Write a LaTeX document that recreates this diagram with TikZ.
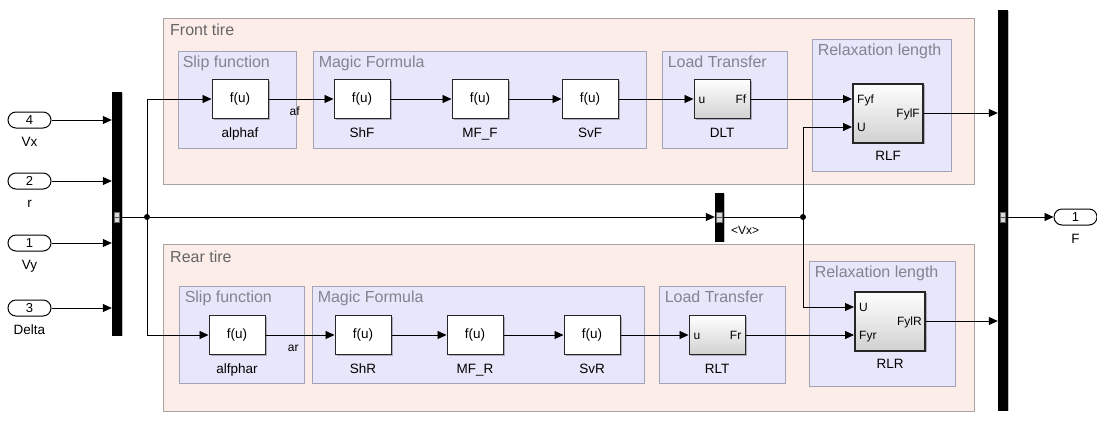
\documentclass[tikz,border=0pt]{standalone}
\usepackage{fontspec}
\setmainfont{Liberation Sans}
\usetikzlibrary{arrows.meta,shadows,fit,calc}
\definecolor{tirefill}{HTML}{FCEDE8}
\definecolor{tireline}{HTML}{ABA3A3}
\definecolor{subfill}{HTML}{E8E6FA}
\definecolor{subline}{HTML}{A3A3B8}
\definecolor{titlecol}{HTML}{666666}
\definecolor{subtitle}{HTML}{83838F}
\tikzset{
  area/.style={draw=tireline, fill=tirefill, line width=0.9pt, inner sep=0pt},
  subsys/.style={draw=subline, fill=subfill, line width=0.9pt, inner sep=0pt},
  ttl/.style={anchor=base west, inner sep=0pt, text=titlecol, font=\fontsize{16}{18}\selectfont},
  subttl/.style={anchor=base west, inner sep=0pt, text=subtitle, font=\fontsize{16}{18}\selectfont},
  blk/.style={draw=black!85, fill=white, line width=1pt, minimum width=56pt, minimum height=39pt,
    inner sep=0pt, font=\fontsize{13.5}{15}\selectfont,
    drop shadow={shadow xshift=1.5pt, shadow yshift=-1.5pt, opacity=0.25, fill=black}},
  gblk/.style={blk, top color=white, bottom color=black!18},
  rblk/.style={gblk, line width=2pt, minimum width=70pt, minimum height=59pt},
  lbl/.style={anchor=base, inner sep=0pt, font=\fontsize{13.5}{15}\selectfont},
  plbl/.style={inner sep=0pt, font=\fontsize{12}{14}\selectfont},
  bus/.style={fill=black, draw=black, inner sep=0pt, minimum width=9pt,
    drop shadow={shadow xshift=2pt, shadow yshift=-1pt, opacity=0.25, fill=black}},
  port/.style={draw=black, fill=white, rounded corners=8pt, line width=1pt, minimum width=43pt,
    minimum height=16pt, inner sep=0pt, font=\fontsize{13}{15}\selectfont},
  busmark/.style={draw=black!60, fill=white!85!black, minimum width=5.5pt, minimum height=10pt, inner sep=0pt,
    path picture={\draw[black!70, line width=0.6pt] (path picture bounding box.west) -- (path picture bounding box.east);}},
  wire/.style={draw=black, line width=0.8pt},
  arr/.style={wire, -{Triangle[length=9pt,width=8pt]}},
  dot/.style={circle, fill=black, inner sep=0pt, minimum size=6pt}
}
\begin{document}
\begin{tikzpicture}[x=1pt,y=-1pt]
\useasboundingbox (0,0) rectangle (1097,421);
% ---------- containers ----------
\node[area, fit={(163,18)(974,184)}] (front) {};
\node[area, fit={(163,244)(974,411)}] (rear) {};
\node[ttl] (front-t) at (170,35) {Front tire};
\node[ttl] (rear-t) at (170,262) {Rear tire};

\node[subsys, fit={(178,51)(296,148)}] (fslip) {};
\node[subsys, fit={(313,51)(646,148)}] (fmf) {};
\node[subsys, fit={(662,51)(787,148)}] (flt) {};
\node[subsys, fit={(812,39)(951,171)}] (frl) {};
\node[subsys, fit={(179,286)(304,383)}] (rslip) {};
\node[subsys, fit={(312,286)(644,383)}] (rmf) {};
\node[subsys, fit={(659,286)(785,383)}] (rlt) {};
\node[subsys, fit={(809,261)(955,386)}] (rrl) {};

\node[subttl] (fslip-t) at ($(fslip.north west)+(5,17)$) {Slip function};
\node[subttl] (fmf-t) at ($(fmf.north west)+(6,17)$) {Magic Formula};
\node[subttl] (flt-t) at ($(flt.north west)+(6,17)$) {Load Transfer};
\node[subttl] (frl-t) at ($(frl.north west)+(6,17)$) {Relaxation length};
\node[subttl] (rslip-t) at ($(rslip.north west)+(6,17)$) {Slip function};
\node[subttl] (rmf-t) at ($(rmf.north west)+(6,17)$) {Magic Formula};
\node[subttl] (rlt-t) at ($(rlt.north west)+(6,17)$) {Load Transfer};
\node[subttl] (rrl-t) at ($(rrl.north west)+(6,17)$) {Relaxation length};

% ---------- front blocks ----------
\node[blk] (alphaf) at (240,99) {f(u)};
\node[blk] (ShF) at (362,99) {f(u)};
\node[blk] (MFF) at (480,99) {f(u)};
\node[blk] (SvF) at (590,99) {f(u)};
\node[gblk] (DLT) at (722,99) {};
\node[rblk] (RLF) at (888,113) {};
% ---------- rear blocks ----------
\node[blk] (alfphar) at (237,335) {f(u)};
\node[blk] (ShR) at (363,335) {f(u)};
\node[blk] (MFR) at (475,335) {f(u)};
\node[blk] (SvR) at (592,335) {f(u)};
\node[gblk] (RLT) at (717,335) {};
\node[rblk] (RLR) at (890,321) {};

% block names
\node[lbl] (alphaf-l) at ($(alphaf.south)+(0,18)$) {alphaf};
\node[lbl] (ShF-l) at ($(ShF.south)+(0,18)$) {ShF};
\node[lbl] (MFF-l) at ($(MFF.south)+(0,18)$) {MF\_F};
\node[lbl] (SvF-l) at ($(SvF.south)+(0,18)$) {SvF};
\node[lbl] (DLT-l) at ($(DLT.south)+(0,18)$) {DLT};
\node[lbl] (RLF-l) at ($(RLF.south)+(0,17)$) {RLF};
\node[lbl] (alfphar-l) at ($(alfphar.south)+(0,18)$) {alfphar};
\node[lbl] (ShR-l) at ($(ShR.south)+(0,18)$) {ShR};
\node[lbl] (MFR-l) at ($(MFR.south)+(0,18)$) {MF\_R};
\node[lbl] (SvR-l) at ($(SvR.south)+(0,18)$) {SvR};
\node[lbl] (RLT-l) at ($(RLT.south)+(0,18)$) {RLT};
\node[lbl] (RLR-l) at ($(RLR.south)+(0,17)$) {RLR};

% port labels inside blocks
\node[plbl, anchor=base west] (DLT-u) at ($(DLT.west)+(5,4)$) {u};
\node[plbl, anchor=base east] (DLT-Ff) at ($(DLT.east)+(-4,4)$) {Ff};
\node[plbl, anchor=base west] (RLT-u) at ($(RLT.west)+(5,4)$) {u};
\node[plbl, anchor=base east] (RLT-Fr) at ($(RLT.east)+(-4,4)$) {Fr};
\coordinate (RLF-fy) at ($(RLF.west)+(0,-14)$);
\coordinate (RLF-u) at ($(RLF.west)+(0,14)$);
\coordinate (RLR-u) at ($(RLR.west)+(0,-14)$);
\coordinate (RLR-fy) at ($(RLR.west)+(0,14)$);
\node[plbl, anchor=base west] (RLF-fyl) at ($(RLF-fy)+(5,4)$) {Fyf};
\node[plbl, anchor=base west] (RLF-ul) at ($(RLF-u)+(5,4)$) {U};
\node[plbl, anchor=base east] (RLF-ol) at ($(RLF.east)+(-4,4)$) {FylF};
\node[plbl, anchor=base west] (RLR-ul) at ($(RLR-u)+(5,4)$) {U};
\node[plbl, anchor=base west] (RLR-fyl) at ($(RLR-fy)+(5,4)$) {Fyr};
\node[plbl, anchor=base east] (RLR-ol) at ($(RLR.east)+(-4,4)$) {FylR};

% ---------- inports / buses ----------
\node[port] (in4) at (29.5,120) {4};
\node[port] (in2) at (29.5,181) {2};
\node[port] (in1) at (29.5,243) {1};
\node[port] (in3) at (29.5,308) {3};
\node[lbl] (in4-l) at ($(in4.south)+(0,18)$) {Vx};
\node[lbl] (in2-l) at ($(in2.south)+(0,18)$) {r};
\node[lbl] (in1-l) at ($(in1.south)+(0,18)$) {Vy};
\node[lbl] (in3-l) at ($(in3.south)+(0,18)$) {Delta};

\node[bus, minimum height=243pt] (lbus) at (116.5,213.5) {};
\node[bus, minimum height=400pt] (rbus) at (1002.5,210) {};
\node[bus, minimum width=8pt, minimum height=48pt] (msel) at (719,217) {};
\node[busmark] (lbus-m) at (116.5,217) {};
\node[busmark] (rbus-m) at (1002.5,217) {};
\node[busmark] (msel-m) at (719,217) {};
\node[plbl, anchor=base west] (msel-l) at (731,234) {<Vx>};

\node[port] (outF) at (1075.5,217) {1};
\node[lbl] (outF-l) at ($(outF.south)+(0,18)$) {F};

\node[dot] (J1) at (147,217) {};
\node[dot] (J2) at (803,217) {};

% ---------- connectors ----------
\draw[arr] (in4.east) -- (in4.east -| lbus.west);
\draw[arr] (in2.east) -- (in2.east -| lbus.west);
\draw[arr] (in1.east) -- (in1.east -| lbus.west);
\draw[arr] (in3.east) -- (in3.east -| lbus.west);
\draw[wire] (lbus.east |- J1) -- (J1);
\draw[arr] (J1.center) |- (alphaf.west);
\draw[arr] (J1.center) |- (alfphar.west);
\draw[arr] (J1) -- (msel.west);
\draw[wire] (msel.east) -- (J2);
\draw[arr] (J2.center) |- (RLF-u);
\draw[arr] (J2.center) |- (RLR-u);

\draw[arr] (alphaf.east) -- (ShF.west) node[pos=0.32, anchor=base west, plbl, yshift=-16pt] (af) {af};
\draw[arr] (ShF.east) -- (MFF.west);
\draw[arr] (MFF.east) -- (SvF.west);
\draw[arr] (SvF.east) -- (DLT.west);
\draw[arr] (DLT.east) -- (RLF-fy);
\draw[arr] (RLF.east) -- (RLF.east -| rbus.west);

\draw[arr] (alfphar.east) -- (ShR.west) node[pos=0.32, anchor=base west, plbl, yshift=-16pt] (ar) {ar};
\draw[arr] (ShR.east) -- (MFR.west);
\draw[arr] (MFR.east) -- (SvR.west);
\draw[arr] (SvR.east) -- (RLT.west);
\draw[arr] (RLT.east) -- (RLR-fy);
\draw[arr] (RLR.east) -- (RLR.east -| rbus.west);

\draw[arr] (rbus.east |- outF.west) -- (outF.west);
\end{tikzpicture}
\end{document}
